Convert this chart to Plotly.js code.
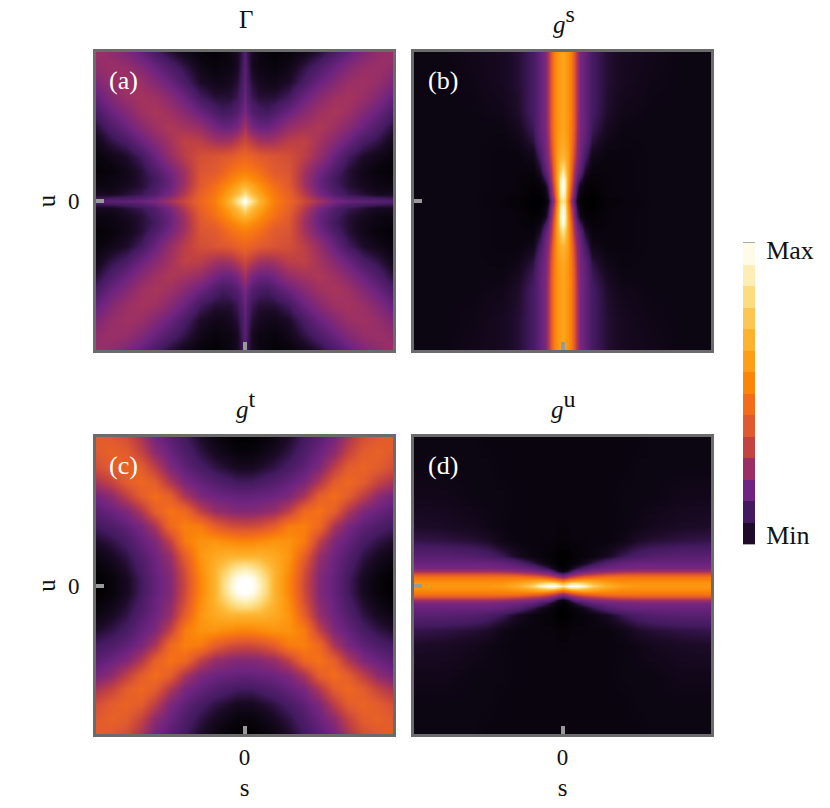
<!DOCTYPE html>
<html><head><meta charset="utf-8">
<script src="https://cdn.plot.ly/plotly-3.0.1.min.js"></script>
<style>html,body{margin:0;padding:0;background:#fff}#c{width:830px;height:808px}</style>
</head><body><div id="c"></div>
<script>
// Each grid is one quadrant (rows = |u|, columns = |s|), as colour-scale position 0..1
const aNodes = [0,.02,.05,.1,.15,.2,.3,.4,.5,.6,.7,.8,.9,1];
const aGrid = [
[1,.97,.9,.77,.66,.58,.49,.38,.29,.2,.17,.15,.14,.13],
[.97,.94,.86,.75,.65,.57,.48,.36,.25,.17,.13,.11,.1,.09],
[.9,.86,.79,.71,.62,.56,.47,.33,.2,.13,.09,.07,.05,.05],
[.77,.75,.71,.64,.58,.53,.44,.29,.17,.11,.07,.05,.03,.03],
[.66,.65,.62,.58,.53,.48,.43,.28,.17,.1,.07,.04,.03,.02],
[.58,.57,.56,.53,.48,.44,.42,.29,.19,.12,.07,.04,.02,.01],
[.49,.48,.47,.44,.43,.42,.4,.34,.26,.17,.1,.06,.04,.02],
[.38,.36,.33,.29,.28,.29,.34,.35,.29,.23,.17,.11,.08,.04],
[.29,.25,.2,.17,.17,.19,.26,.29,.31,.28,.23,.17,.12,.07],
[.2,.17,.13,.11,.1,.12,.17,.23,.28,.3,.28,.22,.17,.11],
[.17,.13,.09,.07,.07,.07,.1,.17,.23,.28,.29,.27,.22,.16],
[.15,.11,.07,.05,.04,.04,.06,.11,.17,.22,.27,.28,.26,.21],
[.14,.1,.05,.03,.03,.02,.04,.08,.12,.17,.22,.26,.27,.25],
[.13,.09,.05,.03,.02,.01,.02,.04,.07,.11,.16,.21,.25,.27]];

const bCols = [0,.02,.04,.06,.08,.1,.12,.15,.2,.3,.4,.6,.8,1];
const bRows = [0,.03,.06,.1,.15,.2,.3,.4,.5,.6,.8,1];
const bGrid = [
[.92,.85,.57,.28,.14,.04,.015,0,0,.015,.02,.03,.03,.03],
[.97,.89,.62,.33,.17,.06,.02,.005,0,.015,.02,.03,.03,.03],
[1,.92,.65,.38,.2,.08,.03,.01,.005,.02,.025,.03,.03,.03],
[1,.94,.68,.42,.22,.1,.04,.015,.01,.02,.025,.03,.03,.03],
[1,.92,.7,.47,.27,.15,.09,.03,.015,.02,.025,.03,.03,.03],
[.92,.84,.69,.5,.3,.19,.14,.06,.02,.022,.025,.03,.03,.03],
[.76,.74,.67,.54,.38,.24,.18,.11,.04,.025,.025,.03,.03,.03],
[.72,.7,.65,.56,.42,.27,.19,.15,.075,.035,.028,.03,.03,.03],
[.7,.68,.64,.57,.44,.29,.2,.16,.095,.05,.03,.03,.03,.03],
[.7,.68,.64,.58,.44,.3,.2,.16,.105,.062,.04,.03,.03,.03],
[.7,.68,.64,.58,.44,.3,.2,.16,.105,.068,.05,.035,.03,.03],
[.7,.68,.64,.58,.44,.3,.2,.16,.105,.068,.05,.04,.03,.03]];

const cNodes = [0,.05,.1,.15,.2,.3,.4,.5,.6,.7,.8,.9,1];
const cGrid = [
[1,1,.96,.87,.76,.6,.38,.22,.16,.1,.05,.02,0],
[1,.99,.94,.86,.76,.6,.39,.22,.16,.1,.05,.02,.005],
[.96,.94,.9,.83,.76,.62,.4,.23,.17,.11,.06,.03,.01],
[.87,.86,.83,.78,.74,.63,.43,.25,.17,.12,.07,.04,.02],
[.76,.76,.76,.74,.72,.65,.46,.26,.18,.13,.08,.05,.03],
[.6,.6,.62,.63,.65,.64,.57,.35,.21,.16,.11,.08,.06],
[.38,.39,.4,.43,.46,.57,.58,.5,.3,.2,.15,.12,.1],
[.22,.22,.23,.25,.26,.35,.5,.54,.46,.31,.21,.17,.14],
[.16,.16,.17,.17,.18,.21,.3,.46,.52,.45,.34,.24,.19],
[.1,.1,.11,.12,.13,.16,.2,.31,.45,.5,.45,.36,.3],
[.05,.05,.06,.07,.08,.11,.15,.21,.34,.45,.48,.45,.4],
[.02,.02,.03,.04,.05,.08,.12,.17,.24,.36,.45,.47,.44],
[0,.005,.01,.02,.03,.06,.1,.14,.19,.3,.4,.44,.46]];

const dCols = [0,.03,.06,.1,.15,.2,.3,.4,.5,.6,.8,1];
const dRows = [0,.02,.04,.06,.08,.1,.12,.15,.2,.3,.4,.6,.8,1];
const dGrid = [
[.92,.98,1,1,.96,.86,.74,.68,.66,.66,.66,.66],
[.75,.84,.9,.9,.84,.78,.7,.65,.64,.64,.64,.64],
[.48,.54,.6,.66,.68,.66,.62,.6,.6,.6,.6,.6],
[.25,.3,.36,.42,.48,.5,.54,.54,.54,.54,.54,.54],
[.12,.16,.2,.25,.3,.33,.38,.41,.42,.42,.42,.42],
[.03,.05,.1,.16,.18,.21,.24,.27,.28,.28,.28,.28],
[.01,.02,.04,.08,.12,.15,.18,.19,.2,.2,.2,.2],
[0,.005,.015,.025,.05,.08,.13,.16,.17,.17,.17,.17],
[0,0,.01,.015,.02,.025,.05,.09,.115,.13,.14,.14],
[.015,.015,.02,.02,.02,.025,.025,.035,.06,.07,.08,.085],
[.02,.02,.025,.025,.025,.025,.025,.028,.035,.045,.055,.06],
[.025,.025,.025,.025,.025,.025,.025,.03,.03,.03,.04,.04],
[.025,.025,.025,.025,.025,.025,.025,.025,.03,.03,.03,.03],
[.025,.025,.025,.025,.025,.025,.025,.025,.025,.03,.03,.03]];

const barLevels = [.06,.1,.18,.27,.36,.44,.52,.6,.68,.76,.82,.88,.94,.985];
const barColors = ['#1d0b28','#431a60','#6e2480','#9a2f66','#c44340','#e05a2f','#f36c1a','#fb8509','#fd9e16','#fdb32f','#fdc652','#fddb7f','#fdeeb5','#fffbe9'];
const panelLabels = ['(a)','(b)','(c)','(d)'];
const panelTitles = ['Γ','<i>g</i><sup><span style="font-size:24px">s</span></sup>','<i>g</i><sup><span style="font-size:24px">t</span></sup>','<i>g</i><sup><span style="font-size:24px">u</span></sup>'];
const scaleLabels = ['Max','Min'];

const FONT = 'Liberation Serif, serif';
const colorscale = [[0,'#000000'],[.03,'#0c0512']].concat(barLevels.map((l,i)=>[l,barColors[i]])).concat([[1,'#ffffff']]);

function mirrorAxis(n){ return n.slice(1).reverse().map(v=>-v).concat(n); }
function mirrorGrid(g){
  const rows = g.map(r => r.slice(1).reverse().concat(r));
  return rows.slice(1).reverse().concat(rows);
}
const W=830,H=808;
const boxes=[[96,393,52,350],[414,711,52,350],[96,393,437,734],[414,711,437,734]];
const sets=[[aNodes,aNodes,aGrid],[bCols,bRows,bGrid],[cNodes,cNodes,cGrid],[dCols,dRows,dGrid]];
const data=[], layout={width:W,height:H,margin:{l:0,r:0,t:0,b:0},paper_bgcolor:'#fff',plot_bgcolor:'#fff',showlegend:false,
  font:{family:FONT,size:21,color:'#111'},
  coloraxis:{cmin:0,cmax:1,colorscale:colorscale,showscale:false},annotations:[]};
boxes.forEach((b,i)=>{
  const k=i+1, sx=k===1?'':k, set=sets[i];
  data.push({type:'heatmap',x:mirrorAxis(set[0]),y:mirrorAxis(set[1]),z:mirrorGrid(set[2]),coloraxis:'coloraxis',zsmooth:'best',xaxis:'x'+sx,yaxis:'y'+sx,hoverinfo:'skip'});
  const base={range:[-1,1],tickvals:[0],ticktext:['0'],ticks:'inside',ticklen:8,tickwidth:4,tickcolor:'#999',
    showline:true,mirror:true,linewidth:3,linecolor:'#6b6b6b',showgrid:false,zeroline:false,tickfont:{family:FONT,size:23,color:'#111'}};
  layout['xaxis'+sx]=Object.assign({},base,{domain:[b[0]/W,b[1]/W],anchor:'y'+sx,showticklabels:i>=2,
     title:i>=2?{text:'s',font:{family:FONT,size:25,color:'#111'},standoff:10}:undefined});
  layout['yaxis'+sx]=Object.assign({},base,{domain:[1-b[3]/H,1-b[2]/H],anchor:'x'+sx,showticklabels:i%2===0,ticklabelstandoff:9,
     title:i%2===0?{text:'u',font:{family:FONT,size:25,color:'#111'},standoff:6}:undefined});
  layout.annotations.push({xref:'paper',yref:'paper',x:((b[0]+b[1])/2+1)/W,y:1-(b[2]-33)/H,text:panelTitles[i],showarrow:false,xanchor:'center',yanchor:'middle',font:{family:FONT,size:25,color:'#111'}});
  layout.annotations.push({xref:'paper',yref:'paper',x:(b[0]+(i%2?29:27))/W,y:1-(b[2]+29)/H,text:panelLabels[i],showarrow:false,xanchor:'center',yanchor:'middle',font:{family:FONT,size:26,color:'#fff'}});
});
data.push({type:'heatmap',x:[0],y:barLevels.map((_,i)=>i+.5),z:barLevels.map(v=>[v]),coloraxis:'coloraxis',zsmooth:false,xaxis:'x5',yaxis:'y5',hoverinfo:'skip'});
layout.xaxis5={domain:[743/W,755/W],anchor:'y5',range:[-.5,.5],showticklabels:false,ticks:'',showgrid:false,zeroline:false,showline:true,mirror:true,linewidth:1,linecolor:'#aaa'};
layout.yaxis5={domain:[1-544/H,1-243/H],anchor:'x5',range:[0,14],side:'right',tickvals:[13.67,.42],ticktext:scaleLabels,ticks:'outside',ticklen:5,tickcolor:'rgba(0,0,0,0)',showgrid:false,zeroline:false,showline:false,tickfont:{family:FONT,size:26,color:'#111'}};
Plotly.newPlot('c',data,layout,{displayModeBar:false,staticPlot:true});
</script></body></html>
